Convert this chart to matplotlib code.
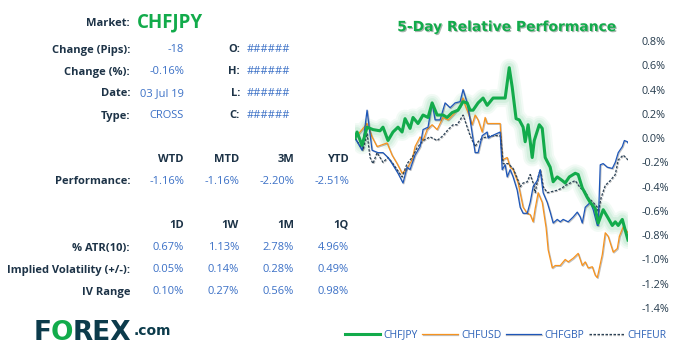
import matplotlib
matplotlib.use("Agg")
import matplotlib.pyplot as plt
import matplotlib.patheffects as pe

plt.rcParams['font.family'] = ['Open Sans', 'DejaVu Sans']

# ---- table data ----
market = "CHFJPY"
info_labels = ["Change (Pips):", "Change (%):", "Date:", "Type:"]
info_values = ["-18", "-0.16%", "03 Jul 19", "CROSS"]
ohlc_labels = ["O:", "H:", "L:", "C:"]
ohlc_values = ["######", "######", "######", "######"]

perf_headers = ["WTD", "MTD", "3M", "YTD"]
perf_values = ["-1.16%", "-1.16%", "-2.20%", "-2.51%"]

vol_headers = ["1D", "1W", "1M", "1Q"]
vol_labels = ["% ATR(10):", "Implied Volatility (+/-):", "IV Range"]
vol_values = [["0.67%", "1.13%", "2.78%", "4.96%"],
              ["0.05%", "0.14%", "0.28%", "0.49%"],
              ["0.10%", "0.27%", "0.56%", "0.98%"]]

# ---- 5-day relative performance (hours since start, % change) ----
jpy_h = [0, 0.9, 3.1, 5.3, 7.9, 11.0, 12.3, 14.5, 16.7, 18.9, 20.7, 22.0, 24.2, 25.5,
         27.7, 29.9, 32.1, 33.9, 36.1, 38.7, 40.5, 42.7, 45.3, 47.5, 49.3, 50.6, 51.9,
         54.1, 56.3, 58.1, 59.4, 60.7, 66.0, 67.8, 69.1, 70.8, 72.2, 73.9, 74.8, 76.1,
         77.9, 78.8, 81.0, 82.3, 83.6, 85.8, 87.1, 88.9, 91.1, 92.4, 94.2, 96.8, 98.1,
         99.9, 102.1, 103.4, 105.6, 106.9, 109.1, 111.3, 113.1, 114.4, 115.7, 117.5,
         118.8, 120.0]
jpy_v = [0.00, 0.05, -0.06, 0.09, 0.07, 0.06, 0.09, -0.02, 0.05, 0.09, 0.05, 0.16, 0.08,
         0.17, 0.12, 0.19, 0.17, 0.29, 0.19, 0.19, 0.17, 0.21, 0.23, 0.30, 0.29, 0.23,
         0.23, 0.29, 0.33, 0.27, 0.30, 0.33, 0.33, 0.58, 0.42, 0.16, 0.15, 0.09, -0.03,
         0.11, -0.16, -0.02, 0.11, 0.08, -0.16, -0.24, -0.36, -0.32, -0.35, -0.37, -0.32,
         -0.29, -0.30, -0.41, -0.49, -0.53, -0.58, -0.70, -0.59, -0.66, -0.72, -0.69,
         -0.72, -0.67, -0.76, -0.84]

usd_h = [0, 5.3, 7.5, 9.7, 14.1, 16.3, 18.5, 20.7, 22.9, 25.1, 26.4, 28.6, 29.9, 31.7,
         33.9, 36.1, 37.4, 38.7, 40.9, 44.0, 46.2, 47.5, 48.4, 49.7, 51.5, 52.8, 54.1,
         55.9, 57.2, 58.1, 63.8, 64.7, 66.9, 68.2, 69.5, 71.7, 73.9, 75.7, 77.0, 78.3,
         79.2, 80.5, 82.3, 84.0, 84.9, 86.7, 88.0, 90.2, 92.4, 93.7, 95.9, 98.1, 99.9,
         101.2, 102.5, 104.3, 105.6, 106.5, 108.7, 110.0, 111.3, 113.5, 115.3, 116.2,
         117.9, 120.0]
usd_v = [0.00, 0.12, 0.01, -0.07, -0.04, -0.14, -0.21, -0.29, -0.25, -0.18, -0.07, 0.01,
         -0.02, 0.07, 0.11, 0.07, 0.12, 0.17, 0.15, 0.21, 0.26, 0.33, 0.27, 0.21, 0.11,
         0.19, 0.15, 0.05, 0.17, 0.12, 0.12, -0.18, -0.16, -0.24, -0.26, -0.37, -0.57,
         -0.62, -0.63, -0.69, -0.58, -0.45, -0.53, -0.74, -0.92, -1.07, -1.05, -1.05,
         -1.00, -1.02, -0.99, -0.95, -1.05, -1.02, -1.07, -1.06, -1.13, -1.15, -0.96,
         -0.78, -0.81, -0.94, -0.91, -0.81, -0.73, -0.78]

gbp_h = [0, 3.1, 5.3, 7.5, 10.1, 12.3, 14.5, 16.3, 18.9, 21.1, 22.9, 24.2, 26.4, 28.6,
         29.9, 32.1, 33.9, 35.2, 37.4, 39.6, 41.8, 44.0, 46.2, 47.5, 49.3, 50.6, 52.8,
         54.1, 55.9, 58.1, 58.5, 60.3, 63.8, 64.7, 66.0, 66.9, 68.2, 69.5, 71.3, 72.6,
         73.9, 75.7, 77.0, 78.3, 80.1, 81.4, 82.7, 84.5, 85.8, 87.1, 88.9, 90.2, 91.5,
         93.7, 95.9, 97.7, 99.0, 99.9, 101.2, 103.4, 104.7, 106.5, 106.9, 107.8, 109.1,
         110.9, 113.1, 114.4, 115.7, 117.5, 118.4, 119.7, 120.0]
gbp_v = [0.00, -0.10, 0.23, -0.10, -0.12, -0.12, -0.16, -0.21, -0.29, -0.37, -0.24,
         -0.26, -0.14, -0.07, 0.07, 0.09, 0.29, 0.15, 0.15, 0.29, 0.25, 0.29, 0.30, 0.40,
         0.29, 0.15, -0.12, -0.12, 0.02, 0.05, 0.00, 0.02, 0.05, -0.26, -0.22, -0.32,
         -0.26, -0.32, -0.43, -0.57, -0.62, -0.62, -0.53, -0.40, -0.35, -0.26, -0.45,
         -0.53, -0.61, -0.70, -0.67, -0.69, -0.67, -0.69, -0.65, -0.61, -0.65, -0.70,
         -0.57, -0.53, -0.59, -0.72, -0.72, -0.22, -0.21, -0.24, -0.25, -0.20, -0.12,
         -0.07, -0.02, -0.03, -0.04]

eur_h = [0, 3.5, 5.3, 6.6, 7.9, 9.7, 12.3, 14.5, 16.3, 18.5, 20.7, 22.9, 25.1, 27.3,
         29.9, 33.0, 36.1, 38.7, 40.9, 43.1, 44.9, 46.2, 47.5, 49.3, 50.6, 52.8, 54.1,
         55.9, 58.1, 59.4, 63.8, 65.1, 67.3, 69.5, 71.7, 72.6, 73.9, 75.7, 77.0, 78.3,
         79.2, 80.5, 81.4, 82.7, 84.5, 86.7, 88.9, 91.1, 92.4, 94.6, 96.8, 99.0, 101.2,
         102.5, 104.7, 106.5, 106.9, 108.2, 110.0, 112.2, 114.4, 115.7, 117.9, 120.0]
eur_v = [0.00, -0.10, 0.04, -0.16, -0.21, -0.12, -0.20, -0.16, -0.20, -0.26, -0.32,
         -0.21, -0.16, -0.08, -0.02, 0.01, -0.02, 0.02, 0.07, 0.11, 0.11, 0.15, 0.19,
         0.09, 0.02, -0.07, -0.03, 0.00, 0.01, 0.02, 0.02, -0.21, -0.21, -0.25, -0.35,
         -0.40, -0.37, -0.36, -0.30, -0.37, -0.45, -0.32, -0.26, -0.40, -0.45, -0.44,
         -0.43, -0.41, -0.39, -0.37, -0.35, -0.41, -0.44, -0.49, -0.53, -0.57, -0.61,
         -0.49, -0.39, -0.35, -0.30, -0.18, -0.14, -0.18]

yticks = [0.8, 0.6, 0.4, 0.2, 0.0, -0.2, -0.4, -0.6, -0.8, -1.0, -1.2, -1.4]

GREEN = '#12ab4b'
ORANGE = '#f7931e'
BLUE = '#1d56b8'
DASH = '#2c4256'
LABEL = '#1d3347'
VALUE = '#3b70c6'

W, H = 679, 355
fig = plt.figure(figsize=(W / 100, H / 100), dpi=100)


def put(x, y, s, **kw):
    fig.text(x / W, 1 - y / H, s, va='center', **kw)


# ---- left table ----
put(130, 24, "Market:", ha='right', fontsize=8, fontweight='bold', color=LABEL)
put(137, 22, market, ha='left', fontsize=13.5, fontweight='bold', color=GREEN)
for i in range(4):
    y = 50 + 22 * i
    put(130, y, info_labels[i], ha='right', fontsize=8, fontweight='bold', color=LABEL)
    put(184, y, info_values[i], ha='right', fontsize=8, color=VALUE)
    put(240, y, ohlc_labels[i], ha='right', fontsize=8, fontweight='bold', color=LABEL)
    put(247, y, ohlc_values[i], ha='left', fontsize=8, color=VALUE)

cols = [184, 239, 294, 349]
for j in range(4):
    put(cols[j], 159, perf_headers[j], ha='right', fontsize=8, fontweight='bold', color=LABEL)
    put(cols[j], 182, perf_values[j], ha='right', fontsize=8, color=VALUE)
put(130, 182, "Performance:", ha='right', fontsize=8, fontweight='bold', color=LABEL)

for j in range(4):
    put(cols[j], 225, vol_headers[j], ha='right', fontsize=8, fontweight='bold', color=LABEL)
for i in range(3):
    y = 248 + 22 * i
    put(130, y, vol_labels[i], ha='right', fontsize=8, fontweight='bold', color=LABEL)
    for j in range(4):
        put(cols[j], y, vol_values[i][j], ha='right', fontsize=8, color=VALUE)

# ---- logo ----
put(34, 333, "F", fontsize=19, fontweight='heavy', color='#0c3b4b', family='DejaVu Sans')
put(51, 333, "O", fontsize=19, fontweight='heavy', color=GREEN, family='DejaVu Sans')
put(73, 333, "REX", fontsize=19, fontweight='heavy', color='#0c3b4b', family='DejaVu Sans')
put(134, 331, ".com", fontsize=10, fontweight='bold', color='#0c3b4b', family='DejaVu Sans')

# ---- chart ----
ax = fig.add_axes([355 / W, 1 - 308 / H, 273 / W, 267 / H])
glow = [(13, 0.05), (10, 0.06), (7, 0.08)]
for lw, a in glow:
    ax.plot(jpy_h, jpy_v, color=GREEN, lw=lw, alpha=a, solid_capstyle='round',
            solid_joinstyle='round')
shadow = [pe.SimpleLineShadow(offset=(0.6, -0.6), alpha=0.25), pe.Normal()]
l_usd, = ax.plot(usd_h, usd_v, color=ORANGE, lw=0.9, label='CHFUSD', path_effects=shadow)
l_eur, = ax.plot(eur_h, eur_v, color=DASH, lw=0.9, ls=(0, (2, 1.2)), label='CHFEUR',
                 path_effects=shadow)
l_gbp, = ax.plot(gbp_h, gbp_v, color=BLUE, lw=0.9, label='CHFGBP', path_effects=shadow)
l_jpy, = ax.plot(jpy_h, jpy_v, color=GREEN, lw=2.2, label='CHFJPY')

ax.set_xlim(0, 120)
ax.set_ylim(-1.4, 0.8)
ax.yaxis.tick_right()
ax.set_yticks(yticks)
ax.set_yticklabels([f"{t:.1f}%" for t in yticks])
ax.tick_params(axis='y', length=0, pad=10, labelsize=7.8, labelcolor='#253b4d')
ax.set_xticks([])
for s in ax.spines.values():
    s.set_visible(False)

put(507, 27, "5-Day Relative Performance", ha='center', fontsize=10, fontweight='bold',
    color=GREEN, family='DejaVu Sans',
    path_effects=[pe.withSimplePatchShadow(offset=(0.8, -0.8), alpha=0.35)])

leg = fig.legend(handles=[l_jpy, l_usd, l_gbp, l_eur], loc='center right',
                 bbox_to_anchor=(672 / W, 1 - 335 / H), ncol=4, frameon=False,
                 fontsize=7.5, handlelength=3.4, handletextpad=0.35, columnspacing=0.4,
                 borderpad=0)
for t in leg.get_texts():
    t.set_color('#2d62b8')

fig.savefig('out.png', dpi=100)
